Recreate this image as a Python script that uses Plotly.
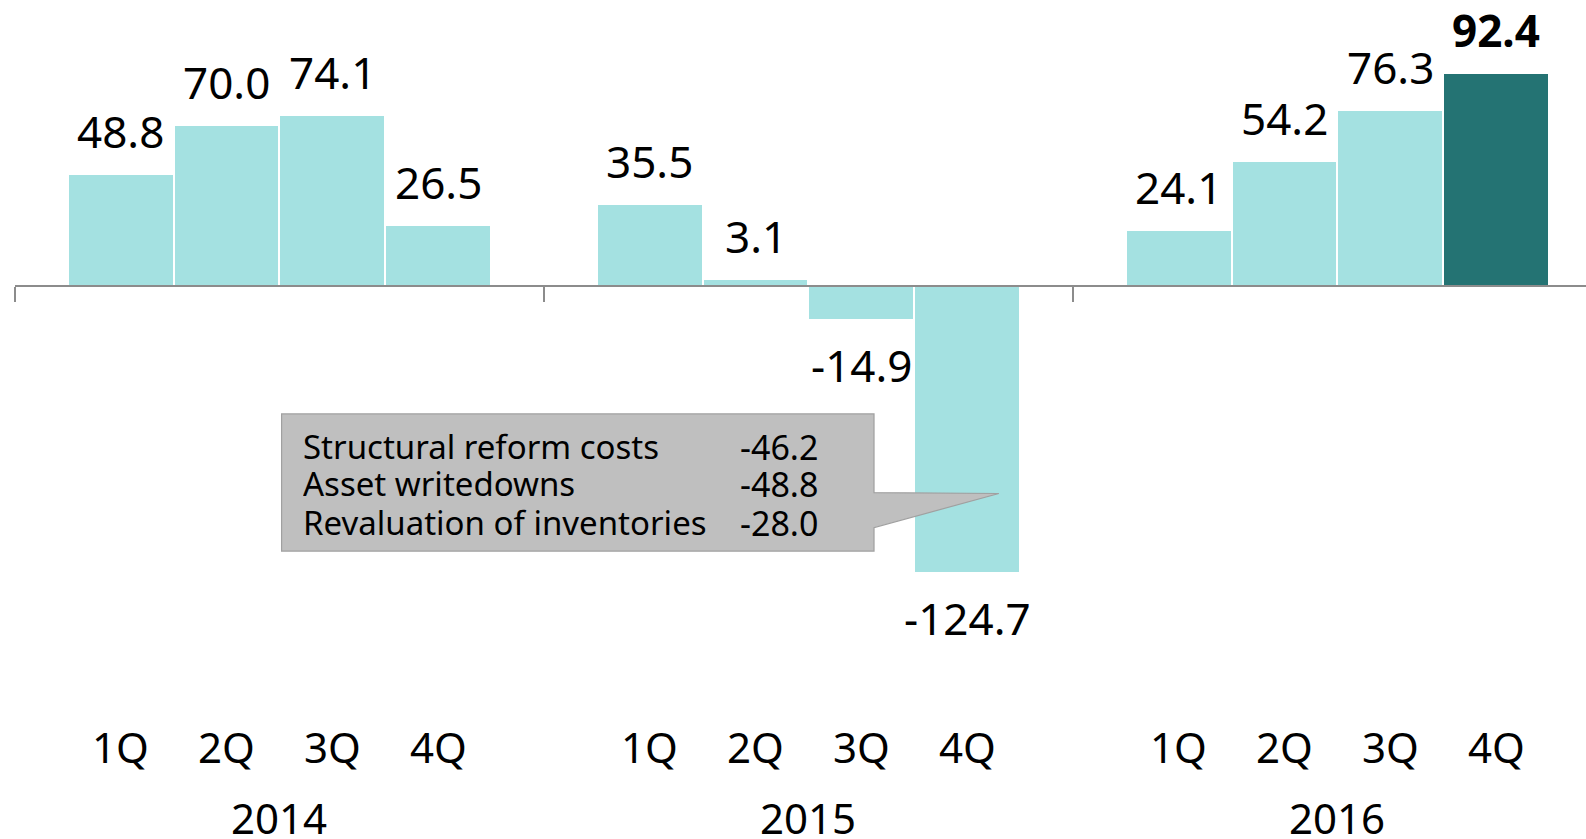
import plotly.graph_objects as go

years = ["2014", "2015", "2016"]
quarters = ["1Q", "2Q", "3Q", "4Q"]
values = [48.8, 70.0, 74.1, 26.5,
          35.5, 3.1, -14.9, -124.7,
          24.1, 54.2, 76.3, 92.4]
callout_labels = ["Structural reform costs", "Asset writedowns", "Revaluation of inventories"]
callout_values = [-46.2, -48.8, -28.0]

LIGHT = "#A4E1E1"
DARK = "#247373"
FONT = "Noto Sans"

# numeric positions: each year group spans 5 units, bars centred at 1..4 within
xpos = [g * 5 + q + 1 for g in range(len(years)) for q in range(len(quarters))]
colors = [LIGHT] * (len(values) - 1) + [DARK]

fig = go.Figure()
fig.add_trace(go.Bar(
    x=xpos, y=values, width=1,
    marker=dict(color=colors, line=dict(color="white", width=2)),
    hoverinfo="skip",
))

annotations = []
for i, (x, v) in enumerate(zip(xpos, values)):
    txt = f"{v:.1f}"
    if i == len(values) - 1:
        txt = f"<b>{txt}</b>"
    annotations.append(dict(
        x=x, y=v, xref="x", yref="y", text=txt, showarrow=False,
        font=dict(family=FONT, size=44, color="black"),
        yanchor="bottom" if v >= 0 else "top",
        yshift=11 if v >= 0 else -13,
    ))

for g, yr in enumerate(years):
    for q, ql in enumerate(quarters):
        annotations.append(dict(
            x=g * 5 + q + 1, y=0.110, xref="x", yref="paper", text=ql,
            showarrow=False, font=dict(family=FONT, size=42, color="black"),
            yanchor="middle",
        ))
    annotations.append(dict(
        x=g * 5 + 2.5, y=0.026, xref="x", yref="paper", text=yr,
        showarrow=False, font=dict(family=FONT, size=42, color="black"),
        yanchor="middle",
    ))

# callout box
shapes = [dict(
    type="path", xref="x", yref="y",
    path="M 2.52,-55.5 L 8.12,-55.5 L 8.12,-89.6 L 9.30,-90.0 L 8.12,-104.8 L 8.12,-115 L 2.52,-115 Z",
    fillcolor="#BFBFBF", line=dict(color="#A0A0A0", width=1.2), layer="above",
)]
line_y = [-69.4, -85.7, -102.4]
for lab, val, yy in zip(callout_labels, callout_values, line_y):
    annotations.append(dict(x=2.70, y=yy, xref="x", yref="y", text=lab, showarrow=False,
                            xanchor="left", yanchor="middle", height=37, valign="middle",
                            font=dict(family=FONT, size=33, color="black")))
    annotations.append(dict(x=6.83, y=yy, xref="x", yref="y", text=f"{val:.1f}", showarrow=False,
                            xanchor="left", yanchor="middle", height=37, valign="middle",
                            font=dict(family=FONT, size=34, color="black")))

fig.update_layout(
    width=1586, height=839,
    margin=dict(l=15, r=0, t=0, b=0),
    paper_bgcolor="white", plot_bgcolor="white",
    showlegend=False, bargap=0,
    annotations=annotations, shapes=shapes,
    xaxis=dict(range=[0, 14.85], anchor="free", position=553 / 839,
               showline=True, linecolor="#8C8C8C", linewidth=2,
               ticks="outside", tickvals=[0, 5, 10, 15], ticklen=15,
               tickcolor="#8C8C8C", tickwidth=2, showticklabels=False,
               showgrid=False, zeroline=False, fixedrange=True),
    yaxis=dict(range=[-239.9, 124.1], visible=False, showgrid=False,
               zeroline=False, fixedrange=True),
)

fig.write_html("out.html", config={"displayModeBar": False},
               post_script="document.body.style.margin='0';document.body.style.overflow='hidden';")
